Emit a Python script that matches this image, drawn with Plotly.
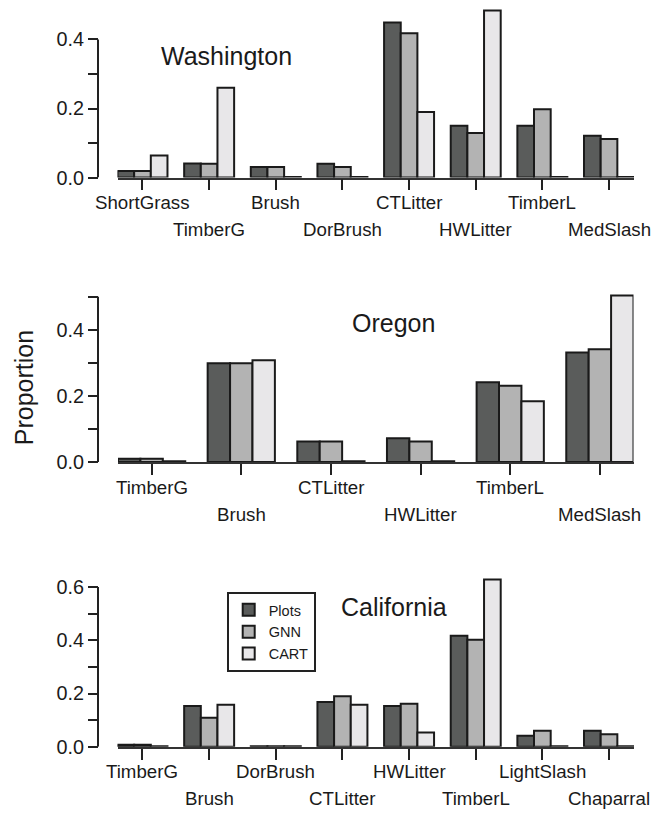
import plotly.graph_objects as go

W, H = 662, 818
FONT = "Liberation Sans, Arial, Helvetica, sans-serif"

series = ["Plots", "GNN", "CART"]
colors = ["#5a5c5b", "#b3b3b3", "#e8e7e9"]

wa_cats = ["ShortGrass", "TimberG", "Brush", "DorBrush", "CTLitter", "HWLitter", "TimberL", "MedSlash"]
wa_plots = [0.019, 0.041, 0.031, 0.040, 0.449, 0.150, 0.150, 0.121]
wa_gnn = [0.019, 0.040, 0.031, 0.031, 0.418, 0.129, 0.198, 0.112]
wa_cart = [0.064, 0.260, 0.002, 0.002, 0.190, 0.484, 0.002, 0.002]

or_cats = ["TimberG", "Brush", "CTLitter", "HWLitter", "TimberL", "MedSlash"]
or_plots = [0.010, 0.299, 0.062, 0.072, 0.241, 0.331]
or_gnn = [0.010, 0.299, 0.062, 0.062, 0.231, 0.341]
or_cart = [0.002, 0.308, 0.002, 0.002, 0.184, 0.504]

ca_cats = ["TimberG", "Brush", "DorBrush", "CTLitter", "HWLitter", "TimberL", "LightSlash", "Chaparral"]
ca_plots = [0.008, 0.153, 0.002, 0.168, 0.153, 0.417, 0.042, 0.060]
ca_gnn = [0.008, 0.109, 0.002, 0.190, 0.162, 0.402, 0.060, 0.047]
ca_cart = [0.002, 0.158, 0.002, 0.158, 0.054, 0.628, 0.002, 0.002]

panels = [
    dict(name="Washington", cats=wa_cats, vals=[wa_plots, wa_gnn, wa_cart],
         x0=117.5, x1=634.0, zero=180.0, ppu=350.0, rmax=0.49, maxtick=0.4,
         tx=226, ty=57),
    dict(name="Oregon", cats=or_cats, vals=[or_plots, or_gnn, or_cart],
         x0=118.0, x1=633.5, zero=468.3, ppu=335.0, rmax=0.51, maxtick=0.5,
         tx=393, ty=327),
    dict(name="California", cats=ca_cats, vals=[ca_plots, ca_gnn, ca_cart],
         x0=117.5, x1=634.0, zero=757.0, ppu=270.0, rmax=0.64, maxtick=0.6,
         tx=394, ty=615),
]

YAXIS_X = 98

fig = go.Figure()
annotations = []
shapes = []

for k, p in enumerate(panels, start=1):
    xs = "" if k == 1 else str(k)
    n = len(p["cats"])
    pos = list(range(n))
    for s, (sname, col, vals) in enumerate(zip(series, colors, p["vals"])):
        fig.add_trace(go.Bar(
            x=pos, y=vals, name=sname,
            marker=dict(color=col, line=dict(color="#1a1a1a", width=2)),
            xaxis="x" + xs, yaxis="y" + xs,
            showlegend=(k == 3), legendgroup=sname,
        ))
    ybot = 1 - p["zero"] / H
    ytop = 1 - (p["zero"] - p["rmax"] * p["ppu"]) / H
    fig.update_layout(**{
        "xaxis" + xs: dict(
            domain=[p["x0"] / W, p["x1"] / W], anchor="y" + xs,
            range=[-0.375, n - 1 + 0.375],
            tickmode="array", tickvals=pos, showticklabels=False,
            ticks="outside", ticklen=11, tickwidth=1.6, tickcolor="#222",
            showline=True, linecolor="#333", linewidth=1.5,
            showgrid=False, zeroline=False, fixedrange=True,
        ),
        "yaxis" + xs: dict(
            domain=[ybot, ytop], anchor="free", position=YAXIS_X / W,
            range=[0, p["rmax"]],
            tick0=0, dtick=0.2, tickformat=".1f",
            ticks="outside", ticklen=10, tickwidth=1.6, tickcolor="#222",
            minor=dict(dtick=0.1, tick0=0, ticks="outside", ticklen=10,
                       tickwidth=1.6, tickcolor="#222"),
            tickfont=dict(size=19.8, color="#1a1a1a", family=FONT),
            ticklabelstandoff=0,
            showline=False, showgrid=False, zeroline=False, fixedrange=True,
        ),
    })
    # y axis line spanning from 0 to the highest tick (R style)
    shapes.append(dict(type="line", xref="paper", yref="y" + xs,
                       x0=YAXIS_X / W, x1=YAXIS_X / W, y0=0, y1=p["maxtick"],
                       line=dict(color="#222", width=2)))
    # category labels in two staggered rows
    for i, c in enumerate(p["cats"]):
        annotations.append(dict(
            x=i, y=0, xref="x" + xs, yref="y" + xs + " domain",
            text=c, showarrow=False, xanchor="center", yanchor="middle",
            yshift=-25 if i % 2 == 0 else -52,
            font=dict(size=18.7, color="#1a1a1a", family=FONT),
        ))
    annotations.append(dict(
        x=p["tx"] / W, y=1 - p["ty"] / H, xref="paper", yref="paper",
        text=p["name"], showarrow=False, xanchor="center", yanchor="middle",
        font=dict(size=25, color="#1a1a1a", family=FONT),
    ))

annotations.append(dict(
    x=24 / W, y=1 - 393.5 / H, xref="paper", yref="paper",
    text="Proportion", textangle=-90, showarrow=False,
    xanchor="center", yanchor="middle",
    font=dict(size=25, color="#1a1a1a", family=FONT),
))

fig.update_layout(
    width=W, height=H,
    margin=dict(l=0, r=0, t=0, b=0),
    paper_bgcolor="white", plot_bgcolor="white",
    barmode="group", bargap=0.25, bargroupgap=0,
    font=dict(family=FONT, color="#1a1a1a"),
    showlegend=True,
    legend=dict(
        x=226.7 / W, y=1 - 600 / H, xanchor="left", yanchor="top",
        bgcolor="white", bordercolor="#222", borderwidth=2,
        font=dict(size=14.5, family=FONT, color="#1a1a1a"),
        itemwidth=30, tracegroupgap=0,
    ),
    annotations=annotations,
    shapes=shapes,
)

fig.write_html("out.html")
